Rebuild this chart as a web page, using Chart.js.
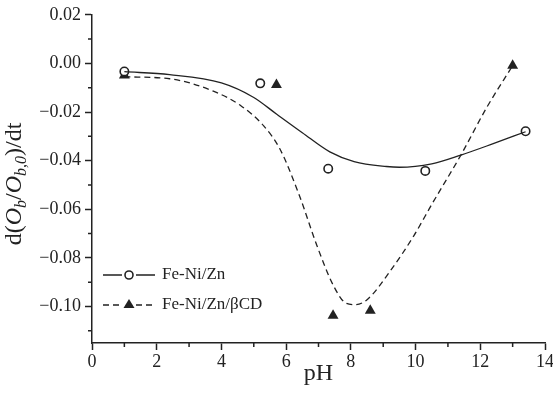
<!DOCTYPE html>
<html>
<head>
<meta charset="utf-8">
<script src="https://cdn.jsdelivr.net/npm/chart.js@4.4.0/dist/chart.umd.min.js"></script>
<style>
  html, body { margin: 0; padding: 0; background: #fff; }
  #wrap { width: 553px; height: 393px; }
</style>
</head>
<body>
<div id="wrap"><canvas id="chart" width="553" height="393"></canvas></div>
<script>
// measured points
const phZn = [1, 5.2, 7.3, 10.3, 13.4];
const rateZn = [-0.0033, -0.0082, -0.0433, -0.0442, -0.0279];
const phCD = [1, 5.7, 7.45, 8.6, 13.0];
const rateCD = [-0.0049, -0.0088, -0.1037, -0.1017, -0.0009];

// fitted curves
const fitZnX = [1, 2.4, 4.0, 5.0, 5.7, 6.5, 7.35, 8.1, 9.1, 9.5, 10.5, 11.4, 12.4, 13.4];
const fitZnY = [-0.0034, -0.0046, -0.0080, -0.0140, -0.0208, -0.0285, -0.0364, -0.0404, -0.0424, -0.0427, -0.0413, -0.0377, -0.0330, -0.0281];
const fitCDX = [1, 2.4, 3.75, 4.6, 5.3, 5.8, 6.4, 6.95, 7.45, 7.85, 8.15, 8.5, 9.2, 9.95, 10.5, 11.4, 12.2, 13.0];
const fitCDY = [-0.0055, -0.0063, -0.0114, -0.0174, -0.0256, -0.0350, -0.0540, -0.0749, -0.0911, -0.0986, -0.0992, -0.0972, -0.0857, -0.0708, -0.0580, -0.0377, -0.0181, -0.0009];

const xTicks = [0, 2, 4, 6, 8, 10, 12, 14];
const xMinor = [1, 3, 5, 7, 9, 11, 13];
const yTicks = [0.02, 0, -0.02, -0.04, -0.06, -0.08, -0.10];
const yMinor = [0.01, -0.01, -0.03, -0.05, -0.07, -0.09, -0.11];

const seriesNames = ['Fe-Ni/Zn', 'Fe-Ni/Zn/\u03b2CD'];

const ink = '#222';
const serif = 'Liberation Serif';

const pts = (xs, ys) => xs.map((x, i) => ({ x: x, y: ys[i] }));

// minor ticks (Chart.js has no minor ticks)
const minorTicks = {
  id: 'minorTicks',
  afterDraw(chart) {
    const { ctx, chartArea, scales } = chart;
    ctx.save();
    ctx.strokeStyle = ink;
    ctx.lineWidth = 1.5;
    ctx.beginPath();
    xMinor.forEach(v => {
      const px = scales.x.getPixelForValue(v);
      ctx.moveTo(px, chartArea.bottom);
      ctx.lineTo(px, chartArea.bottom + 4);
    });
    yMinor.forEach(v => {
      const py = scales.y.getPixelForValue(v);
      ctx.moveTo(chartArea.left, py);
      ctx.lineTo(chartArea.left - 4, py);
    });
    ctx.stroke();
    ctx.restore();
  }
};

// y title with italic O and subscripts
const yTitle = {
  id: 'yTitle',
  afterDraw(chart) {
    const ctx = chart.ctx;
    const size = 24, sub = 16;
    const parts = [
      { t: 'd(', it: false, sub: false },
      { t: 'O', it: true, sub: false },
      { t: 'b', it: true, sub: true },
      { t: '/', it: false, sub: false },
      { t: 'O', it: true, sub: false },
      { t: 'b,0', it: true, sub: true },
      { t: ')/dt', it: false, sub: false }
    ];
    const fontOf = p => (p.it ? 'italic ' : '') + (p.sub ? sub : size) + 'px "' + serif + '"';
    ctx.save();
    let total = 0;
    parts.forEach(p => { ctx.font = fontOf(p); p.w = ctx.measureText(p.t).width; total += p.w; });
    ctx.translate(21, 184 + total / 2);
    ctx.rotate(-Math.PI / 2);
    ctx.fillStyle = ink;
    ctx.textBaseline = 'alphabetic';
    let x = 0;
    parts.forEach(p => {
      ctx.font = fontOf(p);
      ctx.fillText(p.t, x, p.sub ? 5 : 0);
      x += p.w;
    });
    ctx.restore();
  }
};

// legend: line - marker - line, then label
const legendBox = {
  id: 'legendBox',
  afterDatasetsDraw(chart) {
    const ctx = chart.ctx;
    const rows = [
      { y: 275, dash: [], marker: 'circle' },
      { y: 305, dash: [6, 4], marker: 'triangle' }
    ];
    ctx.save();
    rows.forEach((r, i) => {
      ctx.strokeStyle = ink;
      ctx.lineWidth = 1.3;
      ctx.setLineDash(r.dash);
      ctx.beginPath();
      ctx.moveTo(103, r.y); ctx.lineTo(122, r.y);
      ctx.moveTo(136, r.y); ctx.lineTo(155, r.y);
      ctx.stroke();
      ctx.setLineDash([]);
      if (r.marker === 'circle') {
        ctx.beginPath();
        ctx.arc(129, r.y, 4, 0, Math.PI * 2);
        ctx.fillStyle = '#fff';
        ctx.fill();
        ctx.lineWidth = 1.6;
        ctx.stroke();
      } else {
        ctx.beginPath();
        ctx.moveTo(129, r.y - 6);
        ctx.lineTo(134.5, r.y + 3);
        ctx.lineTo(123.5, r.y + 3);
        ctx.closePath();
        ctx.fillStyle = ink;
        ctx.fill();
      }
      ctx.fillStyle = ink;
      ctx.font = '17px "' + serif + '"';
      ctx.textBaseline = 'middle';
      ctx.fillText(seriesNames[i], 162, r.y);
    });
    ctx.restore();
  }
};

const fmt = v => {
  const s = Math.abs(v).toFixed(2);
  return v < -1e-9 ? '\u2212' + s : s;
};

new Chart(document.getElementById('chart'), {
  type: 'scatter',
  data: {
    datasets: [
      {
        label: seriesNames[0] + ' fit',
        data: pts(fitZnX, fitZnY),
        showLine: true,
        borderColor: ink,
        borderWidth: 1.3,
        pointRadius: 0,
        cubicInterpolationMode: 'monotone'
      },
      {
        label: seriesNames[1] + ' fit',
        data: pts(fitCDX, fitCDY),
        showLine: true,
        borderColor: ink,
        borderWidth: 1.3,
        borderDash: [6, 4],
        pointRadius: 0,
        cubicInterpolationMode: 'monotone'
      },
      {
        label: seriesNames[0],
        data: pts(phZn, rateZn),
        pointStyle: 'circle',
        pointRadius: 4.2,
        pointBorderWidth: 1.6,
        pointBorderColor: ink,
        pointBackgroundColor: '#fff'
      },
      {
        label: seriesNames[1],
        data: pts(phCD, rateCD),
        pointStyle: 'triangle',
        pointRadius: 6.3,
        pointBorderWidth: 0,
        pointBorderColor: ink,
        pointBackgroundColor: ink
      }
    ]
  },
  options: {
    responsive: false,
    animation: false,
    layout: { padding: { top: 10, right: 0, left: 0, bottom: 0 } },
    plugins: {
      legend: { display: false },
      tooltip: { enabled: false }
    },
    scales: {
      x: {
        type: 'linear',
        min: 0,
        max: 14,
        afterBuildTicks: s => { s.ticks = xTicks.map(v => ({ value: v })); },
        afterFit: s => { s.height = 50; s.paddingRight = 8; },
        grid: { drawOnChartArea: false, tickLength: 7, tickColor: ink, tickWidth: 1.5 },
        border: { color: ink, width: 1.5 },
        ticks: { color: ink, padding: 1, maxRotation: 0, font: { family: serif, size: 18 } },
        title: { display: true, text: 'pH', color: ink, padding: { top: 0, bottom: 5 }, font: { family: serif, size: 24 } }
      },
      y: {
        type: 'linear',
        min: -0.115,
        max: 0.02,
        afterBuildTicks: s => { s.ticks = yTicks.map(v => ({ value: v })); },
        afterFit: s => { s.width = 92; },
        grid: { drawOnChartArea: false, tickLength: 7, tickColor: ink, tickWidth: 1.5 },
        border: { color: ink, width: 1.5 },
        ticks: { color: ink, padding: 4, callback: v => fmt(v), font: { family: serif, size: 18 } }
      }
    }
  },
  plugins: [minorTicks, yTitle, legendBox]
});
</script>
</body>
</html>
